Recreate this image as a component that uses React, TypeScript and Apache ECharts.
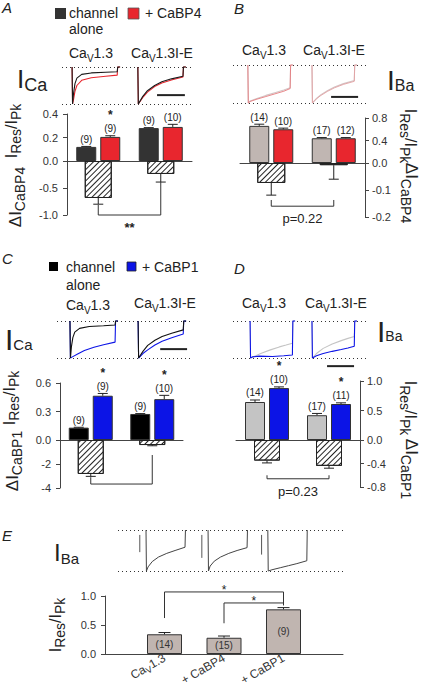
import React, { useEffect, useRef } from 'react';
import * as echarts from 'echarts';

const FONT = '"Liberation Sans", Arial, Helvetica, sans-serif';
const INK = '#222';

// ================= DATA =================
const channelNames = ['CaV1.3', 'CaV1.3I-E'];

// Panel A – CaV1.3 ± CaBP4 (I_Ca)
const aTopTicks = [0, 0.2, 0.4];
const aBotTicks = [-1, -0.5, 0];
const aAlone = [0.12, 0.28];
const aAloneErr = [0.004, 0.004];
const aAloneN = ['(9)', '(9)'];
const aCabp4 = [0.205, 0.29];
const aCabp4Err = [0.01, 0.022];
const aCabp4N = ['(9)', '(10)'];
const aCabp4Sig = [true, false];
const aDelta = [-0.685, -0.24];
const aDeltaErr = [0.115, 0.15];
const aBracket = [0, -0.815, 1, -0.39, -1.0];
const aBracketText = '**';

// Panel B – CaV1.3 ± CaBP4 (I_Ba)
const bTopTicks = [0, 0.4, 0.8];
const bBotTicks = [-0.2, -0.1, 0];
const bAlone = [0.66, 0.44];
const bAloneErr = [0.03, 0.012];
const bAloneN = ['(14)', '(17)'];
const bCabp4 = [0.6, 0.44];
const bCabp4Err = [0.02, 0.012];
const bCabp4N = ['(10)', '(12)'];
const bCabp4Sig = [false, false];
const bDelta = [-0.074, -0.008];
const bDeltaErr = [0.045, 0.052];
const bBracket = [0, -0.137, 1, -0.137, -0.16];
const bBracketText = 'p=0.22';

// Panel C – CaV1.3 ± CaBP1 (I_Ca)
const cTopTicks = [0, 0.3, 0.6];
const cBotTicks = [-4, -2, 0];
const cAlone = [0.13, 0.274];
const cAloneErr = [0.004, 0.004];
const cAloneN = ['(9)', '(9)'];
const cCabp1 = [0.466, 0.43];
const cCabp1Err = [0.024, 0.04];
const cCabp1N = ['(9)', '(10)'];
const cCabp1Sig = [true, true];
const cDelta = [-2.83, -0.42];
const cDeltaErr = [0.2, 0.06];
const cBracket = [0, -3.1, 1, -1.25, -3.67];
const cBracketText = '';

// Panel D – CaV1.3 ± CaBP1 (I_Ba)
const dTopTicks = [0, 0.5, 1.0];
const dBotTicks = [-0.8, -0.4, 0];
const dAlone = [0.644, 0.42];
const dAloneErr = [0.034, 0.03];
const dAloneN = ['(14)', '(17)'];
const dCabp1 = [0.88, 0.61];
const dCabp1Err = [0.02, 0.02];
const dCabp1N = ['(10)', '(11)'];
const dCabp1Sig = [true, true];
const dDelta = [-0.35, -0.44];
const dDeltaErr = [0.04, 0.04];
const dBracket = [0, -0.6, 1, -0.6, -0.66];
const dBracketText = 'p=0.23';

// Panel E
const eTicks = [0, 0.5, 1.0];
const eCats = ['CaV1.3', '+ CaBP4', '+ CaBP1'];
const eVals = [0.34, 0.28, 0.77];
const eErr = [0.03, 0.03, 0.03];
const eN = ['(14)', '(15)', '(9)'];
const eBrackets = [
  [1, 0.62, 3, 0.84, 1.07],
  [2, 0.53, 3, 0.84, 0.88],
];
const eBracketText = ['*', '*'];

// Current traces: [time (sweep units), current / peak]
const trA1Alone = [[0, 0], [1, -1], [3, -0.72], [6, -0.45], [10, -0.3], [20, -0.2], [40, -0.16], [70, -0.14], [94, -0.13], [95, 0], [100, 0]];
const trA1Cabp4 = [[0, 0], [1, -1], [3, -0.88], [6, -0.66], [10, -0.5], [20, -0.36], [40, -0.29], [70, -0.25], [94, -0.22], [95, 0], [100, 0]];
const trA2Alone = [[0, 0], [1, -1], [10, -0.8], [20, -0.64], [35, -0.5], [50, -0.4], [70, -0.32], [94, -0.25], [95, 0], [100, 0]];
const trA2Cabp4 = [[0, 0], [1, -1], [10, -0.83], [20, -0.68], [35, -0.53], [50, -0.43], [70, -0.35], [94, -0.27], [95, 0], [100, 0]];

const trB1Alone = [[0, 0], [1, -1], [5, -0.95], [20, -0.88], [40, -0.8], [60, -0.73], [80, -0.66], [94, -0.6], [95, 0], [100, 0]];
const trB1Cabp4 = [[0, 0], [1, -1], [5, -0.96], [20, -0.9], [40, -0.83], [60, -0.76], [80, -0.69], [94, -0.62], [95, 0], [100, 0]];
const trB2Alone = [[0, 0], [1, -1], [10, -0.88], [20, -0.78], [35, -0.67], [50, -0.58], [70, -0.49], [94, -0.41], [95, 0], [100, 0]];
const trB2Cabp4 = [[0, 0], [1, -1], [10, -0.89], [20, -0.8], [35, -0.69], [50, -0.6], [70, -0.51], [94, -0.43], [95, 0], [100, 0]];

const trC1Alone = [[0, 0], [1, -1], [3, -0.7], [6, -0.45], [10, -0.3], [20, -0.2], [40, -0.15], [70, -0.13], [94, -0.11], [95, 0], [100, 0]];
const trC1Cabp1 = [[0, 0], [1, -1], [5, -0.97], [15, -0.9], [30, -0.8], [50, -0.71], [70, -0.64], [94, -0.57], [95, 0], [100, 0]];
const trC2Alone = [[0, 0], [1, -1], [10, -0.82], [20, -0.66], [35, -0.52], [50, -0.42], [70, -0.33], [94, -0.24], [95, 0], [100, 0]];
const trC2Cabp1 = [[0, 0], [1, -1], [10, -0.88], [20, -0.78], [35, -0.65], [50, -0.55], [70, -0.45], [94, -0.35], [95, 0], [100, 0]];

const trD1Alone = [[0, 0], [1, -1], [10, -0.95], [25, -0.87], [45, -0.78], [65, -0.7], [80, -0.65], [94, -0.6], [95, 0], [100, 0]];
const trD1Cabp1 = [[0, 0], [1, -1], [5, -0.97], [20, -0.95], [50, -0.96], [75, -0.94], [94, -0.92], [95, 0], [100, 0]];
const trD2Alone = [[0, 0], [1, -1], [10, -0.88], [25, -0.74], [45, -0.62], [65, -0.53], [80, -0.47], [94, -0.42], [95, 0], [100, 0]];
const trD2Cabp1 = [[0, 0], [1, -1], [10, -0.94], [25, -0.88], [45, -0.82], [65, -0.77], [80, -0.73], [94, -0.68], [95, 0], [100, 0]];

const trE1 = [[0, 0], [1, -1], [5, -0.9], [15, -0.77], [30, -0.66], [50, -0.57], [70, -0.5], [94, -0.42], [95, 0]];
const trE2 = [[0, 0], [1, -1], [5, -0.88], [15, -0.76], [30, -0.66], [50, -0.57], [70, -0.5], [94, -0.43], [95, 0]];
const trE3 = [[0, 0], [1, -1], [10, -0.97], [30, -0.92], [50, -0.87], [70, -0.82], [94, -0.75], [95, 0]];
const trE1Art = [[-15, -0.12], [-15, -0.54]];
const trE2Art = [[-15, -0.12], [-15, -0.68]];
const trE3Art = [[-15, -0.12], [-15, -0.6]];

// scale bars (sweep units, current level)
const scaleA = [[198, -0.76], [256, -0.76]];
const scaleB = [[218, -0.84], [278, -0.84]];
const scaleC = [[215, -0.76], [271, -0.76]];
const scaleD = [[209, -1.22], [269, -1.22]];

// ================= HELPERS =================
let measureCtx: CanvasRenderingContext2D | null = null;
function textW(t: string, size: number, style = 'normal') {
  if (!measureCtx) measureCtx = document.createElement('canvas').getContext('2d');
  measureCtx!.font = `${style} normal ${size}px ${FONT}`;
  return measureCtx!.measureText(t).width;
}
type Frag = { t: string; s: number; dy?: number };
function composite(frags: Frag[], x: number, y: number, align: 'left' | 'center' | 'right' = 'left', rotation = 0, color = INK) {
  const ws = frags.map((f) => textW(f.t, f.s));
  const total = ws.reduce((a, b) => a + b, 0);
  let cx = align === 'center' ? -total / 2 : align === 'right' ? -total : 0;
  const children = frags.map((f, i) => {
    const el = {
      type: 'text', x: cx, y: f.dy || 0,
      style: { text: f.t, fontSize: f.s, fontFamily: FONT, fill: color, align: 'left', verticalAlign: 'middle' },
    };
    cx += ws[i];
    return el;
  });
  return { type: 'group', x, y, rotation, children };
}
function chanFrags(name: string, size = 14, sub = 10, dy = 5): Frag[] {
  if (name.startsWith('CaV')) return [{ t: 'Ca', s: size }, { t: 'V', s: sub, dy }, { t: name.slice(3), s: size }];
  return [{ t: name, s: size }];
}
const ratioFrags = (m = 16, s = 14, d = 5): Frag[] => [
  { t: 'I', s: m }, { t: 'Res', s, dy: d }, { t: '/', s: m }, { t: 'I', s: m }, { t: 'Pk', s, dy: d },
];
const deltaFrags = (sub: string, m = 17, s = 14, d = 5): Frag[] => [{ t: 'ΔI', s: m }, { t: sub, s, dy: d }];

const hatchDecal = {
  symbol: 'rect', symbolSize: 1, color: '#222', backgroundColor: '#fff',
  dashArrayX: [1, 0], dashArrayY: [1, 3], rotation: -Math.PI / 4,
};

function buildOption() {
  const grid: any[] = [];
  const xAxis: any[] = [];
  const yAxis: any[] = [];
  const series: any[] = [];
  const graphic: any[] = [];
  const axisLine = { show: true, lineStyle: { color: '#444', width: 1 } };
  const axisLabel = { fontSize: 11, color: '#333', fontFamily: FONT };

  const addGrid = (left: number, top: number, width: number, height: number) => {
    grid.push({ left, top, width, height, containLabel: false, outerBoundsMode: 'none' });
    return grid.length - 1;
  };

  // ---------- traces ----------
  const traceGrid = (left: number, top: number, width: number, height: number, xmax: number) => {
    const g = addGrid(left, top, width, height);
    xAxis.push({ gridIndex: g, type: 'value', min: 0, max: xmax, show: false });
    yAxis.push({
      gridIndex: g, type: 'value', min: -1, max: 0, interval: 1,
      axisLine: { show: false }, axisTick: { show: false }, axisLabel: { show: false },
      splitLine: { show: true, showMinLine: true, showMaxLine: true, lineStyle: { color: '#333', type: [1, 3], width: 1 } },
    });
    return g;
  };
  const trace = (g: number, data: number[][], offset: number, color: string, width = 1.1) => {
    series.push({
      type: 'line', xAxisIndex: g, yAxisIndex: g, data: data.map(([t, v]) => [t + offset, v]),
      symbol: 'none', lineStyle: { color, width }, silent: true, clip: false, z: 3,
    });
  };
  const scaleBar = (g: number, data: number[][]) => {
    series.push({
      type: 'line', xAxisIndex: g, yAxisIndex: g, data, symbol: 'none',
      lineStyle: { color: '#222', width: 2 }, silent: true, clip: false, z: 3,
    });
  };

  const RED = '#e8262e';
  const BLUE = '#0c14e6';

  const gA = traceGrid(62, 67, 130, 37, 130 / 0.48);
  trace(gA, trA1Cabp4, 21, RED); trace(gA, trA1Alone, 21, '#1a1a1a');
  trace(gA, trA2Cabp4, 158, RED); trace(gA, trA2Alone, 158, '#1a1a1a');
  scaleBar(gA, scaleA);

  const gB = traceGrid(233, 65, 134, 38, 134 / 0.45);
  trace(gB, trB1Alone, 33, '#d3c4c4'); trace(gB, trB1Cabp4, 33, '#e57a7e', 0.9);
  trace(gB, trB2Alone, 175.5, '#d3c4c4'); trace(gB, trB2Cabp4, 175.5, '#e3a0a3', 0.9);
  scaleBar(gB, scaleB);

  const gC = traceGrid(57, 321, 135, 37, 135 / 0.48);
  trace(gC, trC1Cabp1, 27, BLUE); trace(gC, trC1Alone, 27, '#111');
  trace(gC, trC2Cabp1, 169, BLUE); trace(gC, trC2Alone, 169, '#111');
  scaleBar(gC, scaleC);

  const gD = traceGrid(233, 321, 134, 37, 134 / 0.45);
  trace(gD, trD1Alone, 38, '#c4c4c4'); trace(gD, trD1Cabp1, 38, BLUE);
  trace(gD, trD2Alone, 175.5, '#c4c4c4'); trace(gD, trD2Cabp1, 175.5, BLUE);
  scaleBar(gD, scaleD);

  const gE = traceGrid(118, 530, 225, 41, 225 / 0.415);
  [[trE1, trE1Art, 67.5], [trE2, trE2Art, 217], [trE3, trE3Art, 361]].forEach(([tr, art, off]: any) => {
    trace(gE, tr, off, '#444', 1);
    trace(gE, art, off, '#555', 1);
  });

  // ---------- bar panels ----------
  const errRender = (offset: number, cap: number, labels?: string[], sig?: boolean[]) => (params: any, api: any) => {
    const i = params.dataIndex;
    const c = api.value(0), v = api.value(1), e = api.value(2);
    const p0 = api.coord([c, v]);
    const p1 = api.coord([c, v >= 0 ? v + e : v - e]);
    const x = p0[0] + offset;
    const kids: any[] = [
      { type: 'line', shape: { x1: x, y1: p0[1], x2: x, y2: p1[1] }, style: { stroke: INK, lineWidth: 1 } },
      { type: 'line', shape: { x1: x - cap / 2, y1: p1[1], x2: x + cap / 2, y2: p1[1] }, style: { stroke: INK, lineWidth: 1 } },
    ];
    if (labels) kids.push({ type: 'text', x, y: p1[1] - 7, style: { text: labels[i], fontSize: 10, fontFamily: FONT, fill: INK, align: 'center', verticalAlign: 'middle' } });
    if (sig && sig[i]) kids.push({ type: 'text', x, y: p1[1] - 20.5, style: { text: '*', fontSize: 12, fontWeight: 'bold', fontFamily: FONT, fill: INK, align: 'center', verticalAlign: 'middle' } });
    return { type: 'group', children: kids };
  };
  const bracketRender = (texts: string[], dy: number, fontSize: number, bold = false) => (params: any, api: any) => {
    const i = params.dataIndex;
    const p1 = api.coord([api.value(0), api.value(1)]);
    const p2 = api.coord([api.value(0), api.value(4)]);
    const p3 = api.coord([api.value(2), api.value(4)]);
    const p4 = api.coord([api.value(2), api.value(3)]);
    return {
      type: 'group',
      children: [
        { type: 'polyline', shape: { points: [p1, p2, p3, p4] }, style: { stroke: '#333', fill: 'none', lineWidth: 1 } },
        { type: 'text', x: (p2[0] + p3[0]) / 2, y: p2[1] + dy, style: { text: texts[i] || '', fontSize, fontWeight: bold ? 'bold' : 'normal', fontFamily: FONT, fill: INK, align: 'center', verticalAlign: 'middle' } },
      ],
    };
  };

  type S = { vals: number[]; err: number[]; n: string[]; color: string; sig?: boolean[] };
  const barPanel = (o: {
    left: number; width: number; top: number; zero: number; bottom: number; side: 'left' | 'right';
    topTicks: number[]; botTicks: number[]; topDec: number; botDec: number;
    s1: S; s2: S; delta: number[]; deltaErr: number[]; barW: number; hatchW: number;
    bracket: number[]; bracketText: string; bracketDy: number; bracketFont: number; bracketBold?: boolean; margin: number;
  }) => {
    const gt = addGrid(o.left, o.top, o.width, o.zero - o.top);
    xAxis.push({ gridIndex: gt, type: 'category', data: channelNames, axisLine: { ...axisLine, onZero: false }, axisTick: { show: false }, axisLabel: { show: false }, splitLine: { show: false } });
    yAxis.push({
      gridIndex: gt, type: 'value', position: o.side, min: o.topTicks[0], max: o.topTicks[o.topTicks.length - 1],
      interval: o.topTicks[1] - o.topTicks[0], axisLine, axisTick: { show: true, length: 4, lineStyle: { color: '#444' } },
      axisLabel: { ...axisLabel, margin: o.margin, formatter: (v: number) => v.toFixed(o.topDec) }, splitLine: { show: false },
    });
    const gb = addGrid(o.left, o.zero, o.width, o.bottom - o.zero);
    xAxis.push({ gridIndex: gb, type: 'category', data: channelNames, show: false });
    yAxis.push({
      gridIndex: gb, type: 'value', position: o.side, min: o.botTicks[0], max: 0,
      interval: o.botTicks[1] - o.botTicks[0], axisLine, axisTick: { show: true, length: 4, lineStyle: { color: '#444' } },
      axisLabel: { ...axisLabel, margin: o.margin, formatter: (v: number) => (Math.abs(v) < 1e-9 ? '' : v.toFixed(o.botDec)) }, splitLine: { show: false },
    });
    [o.s1, o.s2].forEach((s) => {
      series.push({
        type: 'bar', xAxisIndex: gt, yAxisIndex: gt, data: s.vals, barWidth: o.barW, barGap: '20%',
        itemStyle: { color: s.color, borderColor: '#333', borderWidth: 1 }, silent: true, z: 2,
      });
    });
    const off = (o.barW * 1.2) / 2;
    [o.s1, o.s2].forEach((s, k) => {
      series.push({
        type: 'custom', xAxisIndex: gt, yAxisIndex: gt, data: s.vals.map((v, i) => [i, v, s.err[i]]),
        renderItem: errRender(k === 0 ? -off : off, 10, s.n, s.sig), silent: true, z: 4, clip: false,
      });
    });
    series.push({
      type: 'bar', xAxisIndex: gb, yAxisIndex: gb, data: o.delta, barWidth: o.hatchW,
      itemStyle: { color: '#fff', borderColor: '#222', borderWidth: 1, decal: hatchDecal }, silent: true, z: 2,
    });
    series.push({
      type: 'custom', xAxisIndex: gb, yAxisIndex: gb, data: o.delta.map((v, i) => [i, v, o.deltaErr[i]]),
      renderItem: errRender(0, 10), silent: true, z: 4, clip: false,
    });
    series.push({
      type: 'custom', xAxisIndex: gb, yAxisIndex: gb, data: [o.bracket],
      renderItem: bracketRender([o.bracketText], o.bracketDy, o.bracketFont, o.bracketBold), silent: true, z: 4, clip: false,
    });
  };

  barPanel({
    left: 67, width: 125, top: 114, zero: 161, bottom: 215, side: 'left', topTicks: aTopTicks, botTicks: aBotTicks,
    topDec: 1, botDec: 1, s1: { vals: aAlone, err: aAloneErr, n: aAloneN, color: '#333333' },
    s2: { vals: aCabp4, err: aCabp4Err, n: aCabp4N, color: RED, sig: aCabp4Sig }, delta: aDelta, deltaErr: aDeltaErr,
    barW: 20, hatchW: 27, bracket: aBracket, bracketText: aBracketText, bracketDy: 12, bracketFont: 13, bracketBold: true, margin: 9,
  });
  barPanel({
    left: 240, width: 125, top: 118, zero: 163, bottom: 217, side: 'right', topTicks: bTopTicks, botTicks: bBotTicks,
    topDec: 1, botDec: 1, s1: { vals: bAlone, err: bAloneErr, n: bAloneN, color: '#c0b6b2' },
    s2: { vals: bCabp4, err: bCabp4Err, n: bCabp4N, color: RED, sig: bCabp4Sig }, delta: bDelta, deltaErr: bDeltaErr,
    barW: 20, hatchW: 28, bracket: bBracket, bracketText: bBracketText, bracketDy: 12, bracketFont: 13, margin: 7,
  });
  barPanel({
    left: 60, width: 123, top: 383, zero: 440, bottom: 488, side: 'left', topTicks: cTopTicks, botTicks: cBotTicks,
    topDec: 1, botDec: 0, s1: { vals: cAlone, err: cAloneErr, n: cAloneN, color: '#000000' },
    s2: { vals: cCabp1, err: cCabp1Err, n: cCabp1N, color: BLUE, sig: cCabp1Sig }, delta: cDelta, deltaErr: cDeltaErr,
    barW: 20, hatchW: 26, bracket: cBracket, bracketText: cBracketText, bracketDy: 12, bracketFont: 13, margin: 9,
  });
  barPanel({
    left: 236, width: 124, top: 381, zero: 440, bottom: 487, side: 'right', topTicks: dTopTicks, botTicks: dBotTicks,
    topDec: 1, botDec: 1, s1: { vals: dAlone, err: dAloneErr, n: dAloneN, color: '#c4c4c4' },
    s2: { vals: dCabp1, err: dCabp1Err, n: dCabp1N, color: BLUE, sig: dCabp1Sig }, delta: dDelta, deltaErr: dDeltaErr,
    barW: 20, hatchW: 26, bracket: dBracket, bracketText: dBracketText, bracketDy: 13, bracketFont: 13, margin: 7,
  });

  // ---------- panel E bars ----------
  const gEb = addGrid(105, 596, 238, 58);
  const eRich = (name: string) => (name.startsWith('CaV') ? `{a|Ca}{s|V}{a|${name.slice(3)}}` : `{a|${name}}`);
  xAxis.push({
    gridIndex: gEb, type: 'value', min: 0, max: eCats.length + 1, interval: 1,
    axisLine, axisTick: { show: false }, splitLine: { show: false },
    axisLabel: {
      rotate: 30, margin: 3, showMinLabel: false, showMaxLabel: false,
      formatter: (v: number) => (eCats[v - 1] ? eRich(eCats[v - 1]) : ''),
      rich: {
        a: { fontSize: 12, fontFamily: FONT, color: '#333' },
        s: { fontSize: 9, fontFamily: FONT, color: '#333', padding: [7, 0, 0, 0] },
      },
    },
  });
  yAxis.push({
    gridIndex: gEb, type: 'value', min: eTicks[0], max: eTicks[eTicks.length - 1], interval: eTicks[1] - eTicks[0],
    axisLine, axisTick: { show: true, length: 4, lineStyle: { color: '#444' } },
    axisLabel: { ...axisLabel, margin: 9, formatter: (v: number) => v.toFixed(1) }, splitLine: { show: false },
  });
  series.push({
    type: 'bar', xAxisIndex: gEb, yAxisIndex: gEb, data: eVals.map((v, i) => [i + 1, v]), barWidth: 35,
    itemStyle: { color: '#c0b5b0', borderColor: '#333', borderWidth: 1 }, silent: true, z: 2,
    label: { show: true, position: 'inside', formatter: (p: any) => eN[p.dataIndex], fontSize: 10, fontFamily: FONT, color: '#333' },
  });
  series.push({
    type: 'custom', xAxisIndex: gEb, yAxisIndex: gEb, data: eVals.map((v, i) => [i + 1, v, eErr[i]]),
    renderItem: errRender(0, 12), silent: true, z: 4, clip: false,
  });
  series.push({
    type: 'custom', xAxisIndex: gEb, yAxisIndex: gEb, data: eBrackets,
    renderItem: bracketRender(eBracketText, -2, 12), silent: true, z: 4, clip: false,
  });

  // ---------- text / decorations ----------
  const letter = (t: string, x: number, y: number) => ({
    type: 'text', x, y, style: { text: t, fontSize: 15, fontStyle: 'italic', fontFamily: FONT, fill: INK, align: 'left', verticalAlign: 'middle' },
  });
  const plain = (t: string, x: number, y: number, size = 14) => ({
    type: 'text', x, y, style: { text: t, fontSize: size, fontFamily: FONT, fill: INK, align: 'left', verticalAlign: 'middle' },
  });
  graphic.push(letter('A', 2, 7), letter('B', 234, 8), letter('C', 2, 258), letter('D', 234, 268), letter('E', 2, 535));

  // legends
  graphic.push(
    { type: 'rect', shape: { x: 55, y: 8, width: 11, height: 11 }, style: { fill: '#333' } },
    plain('channel', 69, 13), plain('alone', 69, 29),
    { type: 'rect', shape: { x: 128, y: 8, width: 11, height: 11 }, style: { fill: RED, stroke: '#555', lineWidth: 0.8 } },
    plain('+ CaBP4', 145, 13),
    { type: 'rect', shape: { x: 49, y: 262, width: 9, height: 9 }, style: { fill: '#000' } },
    plain('channel', 66, 267), plain('alone', 66, 285),
    { type: 'rect', shape: { x: 127, y: 262, width: 9, height: 9 }, style: { fill: BLUE, stroke: '#222', lineWidth: 0.8 } },
    plain('+ CaBP1', 142, 267),
  );

  // channel titles
  graphic.push(
    composite(chanFrags(channelNames[0]), 91, 53, 'center'),
    composite(chanFrags(channelNames[1]), 162, 53, 'center'),
    composite(chanFrags(channelNames[0]), 264, 50, 'center'),
    composite(chanFrags(channelNames[1]), 334, 50, 'center'),
    composite(chanFrags(channelNames[0]), 88, 305, 'center'),
    composite(chanFrags(channelNames[1]), 165, 303, 'center'),
    composite(chanFrags(channelNames[0]), 264, 303, 'center'),
    composite(chanFrags(channelNames[1]), 336, 303, 'center'),
  );

  // current labels
  graphic.push(
    composite([{ t: 'I', s: 26 }, { t: 'Ca', s: 18, dy: 6 }], 17, 79),
    composite([{ t: 'I', s: 28 }, { t: 'Ba', s: 16, dy: 5 }], 387, 80),
    composite([{ t: 'I', s: 30 }, { t: 'Ca', s: 15, dy: 5 }], 5, 339),
    composite([{ t: 'I', s: 30 }, { t: 'Ba', s: 14, dy: 5 }], 377, 331),
    composite([{ t: 'I', s: 24 }, { t: 'Ba', s: 15, dy: 6 }], 54, 552),
  );

  // axis titles
  const up = Math.PI / 2;
  const down = -Math.PI / 2;
  graphic.push(
    composite(ratioFrags(), 11, 131, 'center', up),
    composite(deltaFrags('CaBP4'), 15, 197, 'center', up),
    composite(ratioFrags(), 410, 136, 'center', down),
    composite(deltaFrags('CaBP4'), 411, 193, 'center', down),
    composite(ratioFrags(), 9, 398, 'center', up),
    composite(deltaFrags('CaBP1'), 12, 461, 'center', up),
    composite(ratioFrags(), 410, 408, 'center', down),
    composite(deltaFrags('CaBP1'), 411, 469, 'center', down),
    composite(ratioFrags(), 55, 625, 'center', up),
  );

  return {
    animation: false,
    backgroundColor: '#fff',
    textStyle: { fontFamily: FONT },
    grid, xAxis, yAxis, series, graphic,
  };
}

export default function App() {
  const ref = useRef<HTMLDivElement>(null);
  useEffect(() => {
    const chart = echarts.init(ref.current!, null, { renderer: 'svg', width: 426, height: 692 });
    chart.setOption(buildOption() as any);
    return () => chart.dispose();
  }, []);
  return <div ref={ref} style={{ position: 'fixed', left: 0, top: 0, width: 426, height: 692, background: '#fff' }} />;
}
